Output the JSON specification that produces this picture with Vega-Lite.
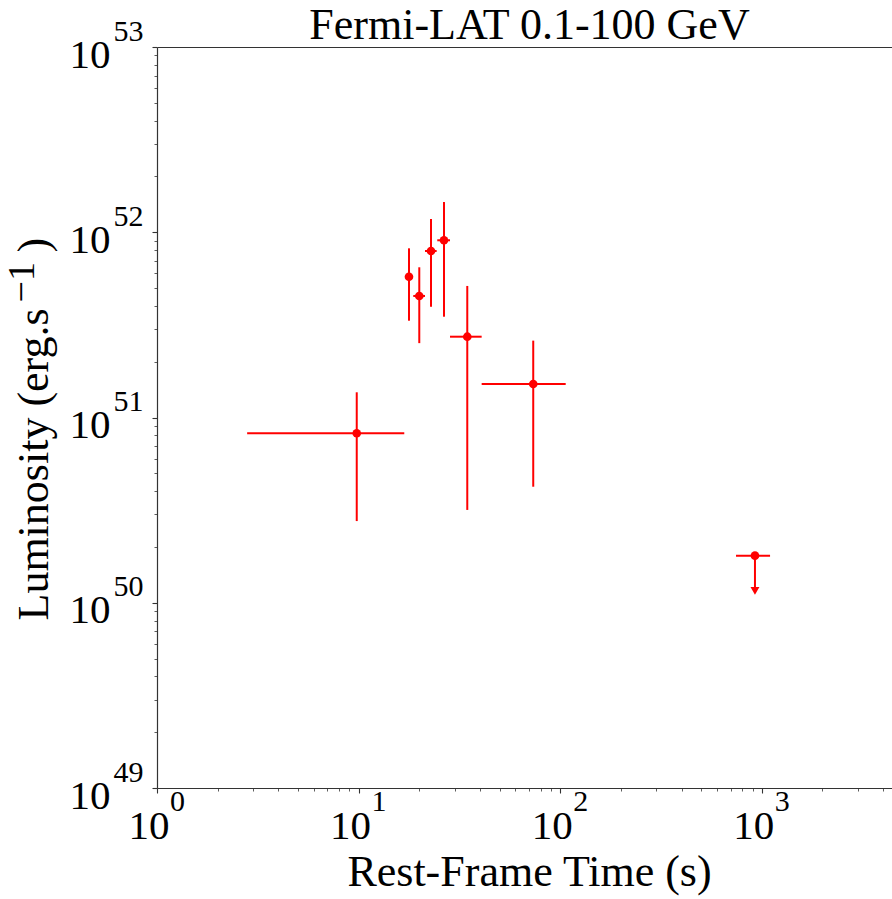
{
  "$schema": "https://vega.github.io/schema/vega-lite/v6.json",
  "width": 735,
  "height": 741,
  "autosize": {"type": "none"},
  "padding": {"left": 157, "top": 47, "right": 0, "bottom": 111},
  "background": "white",
  "config": {
    "view": {"stroke": null},
    "axis": {"grid": false, "labelFlush": false, "labelOverlap": false, "labelBound": false, "labelFont": "Liberation Serif", "titleFont": "Liberation Serif", "labelColor": "black", "titleColor": "black", "domainColor": "#333", "tickColor": "#333", "domainWidth": 1.2}
  },
  "title": {"text": "Fermi-LAT 0.1-100 GeV", "font": "Liberation Serif", "fontSize": 44, "fontWeight": "normal", "color": "black", "anchor": "middle", "dx": 5, "dy": 75, "offset": 8, "baseline": "alphabetic"},
  "data": {"values": [
    {"t": 9.79, "xlo": 2.80, "xhi": 16.85, "L": 8.22e50, "ylo": 2.76e50, "yhi": 1.368e51, "kind": "det"},
    {"t": 17.78, "xlo": 17.3, "xhi": 18.3, "L": 5.75e51, "ylo": 3.33e51, "yhi": 8.19e51, "kind": "det"},
    {"t": 20.0, "xlo": 18.67, "xhi": 21.35, "L": 4.53e51, "ylo": 2.52e51, "yhi": 6.47e51, "kind": "det"},
    {"t": 22.87, "xlo": 21.35, "xhi": 24.39, "L": 7.92e51, "ylo": 3.96e51, "yhi": 1.179e52, "kind": "det"},
    {"t": 26.52, "xlo": 24.56, "xhi": 28.41, "L": 9.05e51, "ylo": 3.50e51, "yhi": 1.456e52, "kind": "det"},
    {"t": 34.6, "xlo": 28.41, "xhi": 40.78, "L": 2.73e51, "ylo": 3.17e50, "yhi": 5.13e51, "kind": "det"},
    {"t": 73.5, "xlo": 40.78, "xhi": 106.5, "L": 1.517e51, "ylo": 4.23e50, "yhi": 2.60e51, "kind": "det"},
    {"t": 925, "xlo": 745, "xhi": 1099, "L": 1.795e50, "ylo": 1.16e50, "yhi": 1.795e50, "kind": "ul"}
  ]},
  "layer": [
    {
      "mark": {"type": "rule", "color": "#ff0000", "strokeWidth": 2},
      "encoding": {
        "x": {"field": "xlo", "type": "quantitative", "scale": {"type": "log", "domain": [1, 4425], "nice": false},
          "axis": {"orient": "bottom", "values": [1, 10, 100, 1000], "labelExpr": "'10'", "tickSize": 5, "tickWidth": 1.1, "labelFontSize": 41, "labelBaseline": "alphabetic", "labelPadding": 45, "labelOffset": -8.5, "labelAlign": "center", "title": "Rest-Frame Time (s)", "titleFontSize": 44, "titleFontWeight": "normal", "titleBaseline": "alphabetic", "titleAlign": "center", "titleX": 372, "titleY": 97}},
        "x2": {"field": "xhi"},
        "y": {"field": "L", "type": "quantitative", "scale": {"type": "log", "domain": [1e49, 1e53], "nice": false},
          "axis": {"orient": "left", "values": [1e49, 1e50, 1e51, 1e52, 1e53], "labelExpr": "'10'", "tickSize": 5, "tickWidth": 1.1, "labelFontSize": 41, "labelAlign": "right", "labelBaseline": "alphabetic", "labelPadding": 42, "labelOffset": 20, "title": "Luminosity (erg.s", "titleFontSize": 44, "titleFontWeight": "normal", "titleAngle": -90, "titleBaseline": "alphabetic", "titleAlign": "left", "titleX": -110, "titleY": 573}}
      }
    },
    {
      "mark": {"type": "rule", "color": "#ff0000", "strokeWidth": 2},
      "encoding": {
        "x": {"field": "t", "type": "quantitative", "scale": {"type": "log", "domain": [1, 4425], "nice": false},
          "axis": {"orient": "bottom", "values": [2, 3, 4, 5, 6, 7, 8, 9, 20, 30, 40, 50, 60, 70, 80, 90, 200, 300, 400, 500, 600, 700, 800, 900, 2000, 3000, 4000], "tickSize": 3, "tickWidth": 0.8, "labels": false, "domain": false, "title": null}},
        "y": {"field": "ylo", "type": "quantitative", "scale": {"type": "log", "domain": [1e49, 1e53], "nice": false},
          "axis": {"orient": "left", "values": [2e49, 3e49, 4e49, 5e49, 6e49, 7e49, 8e49, 9e49, 2e50, 3e50, 4e50, 5e50, 6e50, 7e50, 8e50, 9e50, 2e51, 3e51, 4e51, 5e51, 6e51, 7e51, 8e51, 9e51, 2e52, 3e52, 4e52, 5e52, 6e52, 7e52, 8e52, 9e52], "tickSize": 3, "tickWidth": 0.8, "labels": false, "domain": false, "title": "−1", "titleFontSize": 38, "titleFontWeight": "normal", "titleAngle": -90, "titleBaseline": "alphabetic", "titleAlign": "left", "titleX": -124, "titleY": 255}},
        "y2": {"field": "yhi"}
      }
    },
    {
      "mark": {"type": "point", "shape": "circle", "filled": true, "color": "#ff0000", "size": 75, "opacity": 1},
      "encoding": {
        "x": {"field": "t", "type": "quantitative", "scale": {"type": "log", "domain": [1, 4425], "nice": false},
          "axis": {"orient": "bottom", "values": [1, 10, 100, 1000], "ticks": false, "tickSize": 0, "domain": false, "labelExpr": "'' + round(log(datum.value) / LN10)", "labelFontSize": 30, "labelBaseline": "alphabetic", "labelPadding": 22, "labelOffset": 20, "labelAlign": "center", "title": null}},
        "y": {"field": "L", "type": "quantitative", "scale": {"type": "log", "domain": [1e49, 1e53], "nice": false},
          "axis": {"orient": "left", "values": [1e49, 1e50, 1e51, 1e52, 1e53], "ticks": false, "tickSize": 0, "domain": false, "labelExpr": "'' + round(log(datum.value) / LN10)", "labelFontSize": 30, "labelAlign": "right", "labelBaseline": "alphabetic", "labelPadding": 14, "labelOffset": -7, "title": ")", "titleFontSize": 44, "titleFontWeight": "normal", "titleAngle": -90, "titleBaseline": "alphabetic", "titleAlign": "left", "titleX": -110, "titleY": 205}}
      }
    },
    {
      "transform": [{"filter": "datum.kind == 'ul'"}],
      "mark": {"type": "point", "shape": "triangle-down", "filled": true, "color": "#ff0000", "size": 80, "opacity": 1},
      "encoding": {
        "x": {"field": "t", "type": "quantitative", "scale": {"type": "log", "domain": [1, 4425], "nice": false},
          "axis": {"orient": "top", "domain": true, "ticks": false, "labels": false, "title": null}},
        "y": {"field": "ylo", "type": "quantitative", "scale": {"type": "log", "domain": [1e49, 1e53], "nice": false}, "axis": null}
      }
    }
  ],
  "resolve": {"axis": {"x": "independent", "y": "independent"}}
}
